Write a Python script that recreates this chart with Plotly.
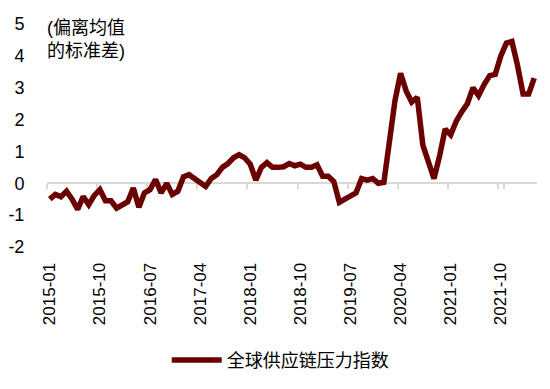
import plotly.graph_objects as go
import pandas as pd

months = pd.date_range("2015-01-01", periods=88, freq="MS").strftime("%Y-%m").tolist()
gscpi = [-0.5, -0.35, -0.42, -0.25, -0.5, -0.82, -0.42, -0.67, -0.38, -0.2,
         -0.55, -0.55, -0.78, -0.7, -0.58, -0.15, -0.75, -0.3, -0.2, 0.12,
         -0.3, 0.0, -0.35, -0.25, 0.2, 0.27, 0.15, 0.05, -0.1, 0.15,
         0.27, 0.5, 0.62, 0.8, 0.9, 0.8, 0.6, 0.1, 0.5, 0.65,
         0.5, 0.5, 0.52, 0.62, 0.55, 0.6, 0.5, 0.5, 0.58, 0.22,
         0.22, 0.06, -0.6, -0.5, -0.42, -0.3, 0.15, 0.1, 0.15, 0.0,
         0.03, 1.2, 2.6, 3.45, 2.9, 2.55, 2.7, 1.2, 0.62, 0.15,
         0.85, 1.7, 1.52, 1.95, 2.25, 2.5, 3.0, 2.75, 3.1, 3.38,
         3.42, 4.0, 4.4, 4.45, 3.7, 2.8, 2.8, 3.3]
tick_labels = months[::9]
y_ticks = [-2, -1, 0, 1, 2, 3, 4, 5]
y_tick_text = [str(v) for v in y_ticks]
series_name = "全球供应链压力指数"
unit_note = "(偏离均值<br>的标准差)"

FONT = "Liberation Sans, Arial, Noto Sans CJK SC, sans-serif"
n = len(months)
y_min, y_max = y_ticks[0], y_ticks[-1]

fig = go.Figure()
# invisible copy on the axis that carries the zero-level axis line and ticks
fig.add_trace(go.Scatter(x=months, y=gscpi, xaxis="x2", mode="lines",
                         line=dict(color="rgba(0,0,0,0)", width=0),
                         showlegend=False, hoverinfo="skip"))
fig.add_trace(go.Scatter(x=months, y=gscpi, mode="lines", name=series_name,
                         line=dict(color="#6B0000", width=5.5)))

fig.update_layout(
    width=550, height=389,
    margin=dict(l=39.2, r=21.2, t=15.5, b=149.5, autoexpand=False),
    paper_bgcolor="white", plot_bgcolor="white",
    font=dict(family=FONT, size=17, color="#000000"),
    showlegend=True,
    legend=dict(orientation="h", x=0.476, xanchor="center", y=-0.508, yanchor="middle",
                font=dict(size=18, color="#000000"), itemwidth=50),
    xaxis=dict(type="category", categoryorder="array", categoryarray=months,
               range=[-0.5, n - 0.5], tickmode="array", tickvals=tick_labels,
               tickangle=-90, showline=False, showgrid=False, zeroline=False,
               ticks="outside", ticklen=8, tickcolor="rgba(0,0,0,0)",
               tickfont=dict(size=17), automargin=False),
    xaxis2=dict(type="category", overlaying="x", anchor="free",
                categoryorder="array", categoryarray=months,
                position=(0 - y_min) / (y_max - y_min), range=[-0.5, n - 0.5],
                tickmode="array", tickvals=tick_labels, tickson="boundaries",
                showticklabels=False, showgrid=False, zeroline=False,
                showline=True, linecolor="#D9D9D9", linewidth=2, layer="below traces",
                ticks="outside", ticklen=5, tickcolor="#D9D9D9", tickwidth=2,
                automargin=False),
    yaxis=dict(range=[y_min, y_max], tickmode="array", tickvals=y_ticks,
               ticktext=y_tick_text,
               showgrid=False, zeroline=False, showline=False,
               ticks="outside", ticklen=18, tickcolor="rgba(0,0,0,0)",
               tickfont=dict(size=18), automargin=False),
    annotations=[dict(text=unit_note, xref="paper", yref="paper", x=-0.005, y=1.034,
                      xanchor="left", yanchor="top", showarrow=False, align="left",
                      font=dict(size=18, color="#000000"))],
)

fig.write_html("out.html")
